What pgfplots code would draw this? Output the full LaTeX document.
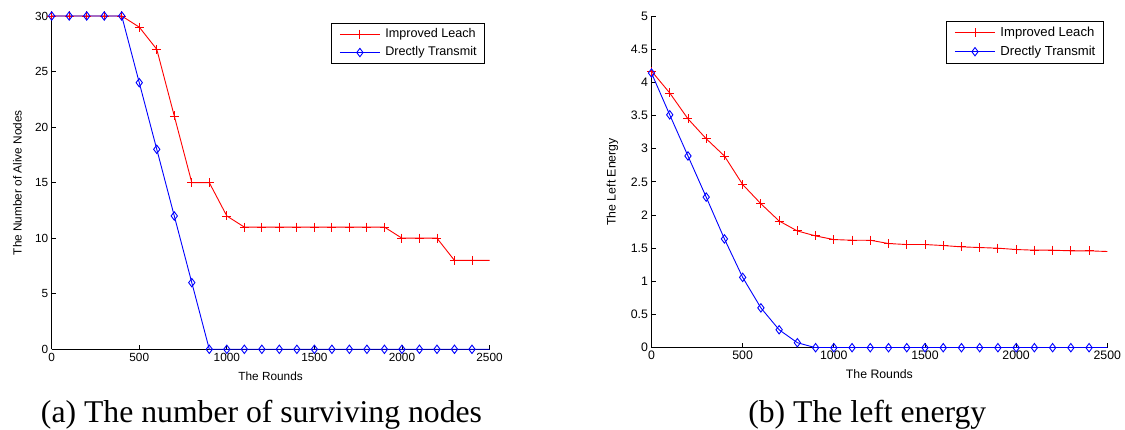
\documentclass[border=0pt]{standalone}
\usepackage{fontspec}
\setmainfont{Liberation Sans}
\newfontfamily\tnr{Liberation Serif}
\usepackage{pgfplots}
\pgfplotsset{compat=1.18}
\definecolor{mred}{RGB}{255,0,0}
\definecolor{mblue}{RGB}{0,0,255}
\pgfplotsset{
  mstyle/.style={
    scale only axis,
    axis x line*=bottom, axis y line*=left,
    axis line style={black, line width=0.8bp},
    every tick/.style={black, line width=0.8bp},
    tick align=inside,
    major tick length=4.5bp,
    xmin=0, xmax=2500,
    xtick={0,500,1000,1500,2000,2500},
    scaled ticks=false,
    /pgf/number format/1000 sep={},
    /pgf/number format/assume math mode=true,
    xlabel={The Rounds},
    legend cell align=left,
    legend image code/.code={\draw[##1, mark indices={2}] plot coordinates {(0bp,0bp) (20bp,0bp) (40bp,0bp)};},
  },
  redline/.style={color=mred, line width=0.9bp, mark=+, mark size=4.5bp, mark options={solid, line width=0.9bp},
    mark indices={1,2,3,4,5,6,7,8,9,10,11,12,13,14,15,16,17,18,19,20,21,22,23,24,25}},
  blueline/.style={color=mblue, line width=0.9bp, mark=diamond, mark size=4.2bp, mark options={solid, line width=0.9bp},
    mark indices={1,2,3,4,5,6,7,8,9,10,11,12,13,14,15,16,17,18,19,20,21,22,23,24,25}},
}
\begin{document}
\begin{tikzpicture}
\useasboundingbox (0,0) rectangle (1125bp,430bp);
% ---------- (a)
\begin{axis}[mstyle,
  at={(51.7bp,80.7bp)}, anchor=south west,
  width=437.8bp, height=333.3bp,
  ymin=0, ymax=30, ytick={0,5,10,15,20,25,30},
  tick label style={font=\fontsize{11.8bp}{13bp}\selectfont},
  label style={font=\fontsize{11.8bp}{13bp}\selectfont},
  ylabel={The Number of Alive Nodes},
  xlabel style={at={(axis description cs:0.5,0)}, anchor=base, yshift=-31bp},
  ylabel style={at={(axis description cs:-0.0685,0.5)}, anchor=base},
  legend style={at={(axis description cs:0.9897,0.9799)}, anchor=north east,
    draw=black, line width=0.8bp, inner xsep=8bp, inner ysep=4.9bp,
    row sep=5.8bp, column sep=5bp,
    font=\fontsize{12.6bp}{14bp}\selectfont,
    nodes={inner sep=0pt, text height=9.5bp, text depth=3bp}},
]
\addplot[redline] coordinates {
(0,30) (100,30) (200,30) (300,30) (400,30) (500,29) (600,27) (700,21) (800,15) (900,15)
(1000,12) (1100,11) (1200,11) (1300,11) (1400,11) (1500,11) (1600,11) (1700,11) (1800,11) (1900,11)
(2000,10) (2100,10) (2200,10) (2300,8) (2400,8) (2500,8)};
\addlegendentry{Improved Leach}
\addplot[blueline] coordinates {
(0,30) (100,30) (200,30) (300,30) (400,30) (500,24) (600,18) (700,12) (800,6) (900,0)
(1000,0) (1100,0) (1200,0) (1300,0) (1400,0) (1500,0) (1600,0) (1700,0) (1800,0) (1900,0)
(2000,0) (2100,0) (2200,0) (2300,0) (2400,0) (2500,0)};
\addlegendentry{Drectly Transmit}
\end{axis}
% ---------- (b)
\begin{axis}[mstyle,
  at={(651.5bp,82.3bp)}, anchor=south west,
  width=455.8bp, height=331.7bp,
  ymin=0, ymax=5, ytick={0,0.5,1,1.5,2,2.5,3,3.5,4,4.5,5},
  tick label style={font=\fontsize{12.3bp}{13.5bp}\selectfont},
  label style={font=\fontsize{12.3bp}{13.5bp}\selectfont},
  ylabel={The Left Energy},
  xlabel style={at={(axis description cs:0.5,0)}, anchor=base, yshift=-31bp},
  ylabel style={at={(axis description cs:-0.0785,0.5)}, anchor=base},
  legend style={at={(axis description cs:0.9921,0.9858)}, anchor=north east,
    draw=black, line width=0.8bp, inner xsep=8bp, inner ysep=5.1bp,
    row sep=6bp, column sep=5bp,
    font=\fontsize{13.1bp}{14.5bp}\selectfont,
    nodes={inner sep=0pt, text height=9.9bp, text depth=3.1bp}},
]
\addplot[redline] coordinates {
(0,4.17) (100,3.84) (200,3.45) (300,3.15) (400,2.89) (500,2.46) (600,2.17) (700,1.91) (800,1.76) (900,1.685)
(1000,1.63) (1100,1.62) (1200,1.62) (1300,1.57) (1400,1.555) (1500,1.555) (1600,1.54) (1700,1.52) (1800,1.51) (1900,1.50)
(2000,1.48) (2100,1.47) (2200,1.47) (2300,1.46) (2400,1.46) (2500,1.45)};
\addlegendentry{Improved Leach}
\addplot[blueline] coordinates {
(0,4.14) (100,3.51) (200,2.89) (300,2.27) (400,1.64) (500,1.06) (600,0.60) (700,0.27) (800,0.075) (900,0)
(1000,0) (1100,0) (1200,0) (1300,0) (1400,0) (1500,0) (1600,0) (1700,0) (1800,0) (1900,0)
(2000,0) (2100,0) (2200,0) (2300,0) (2400,0) (2500,0)};
\addlegendentry{Drectly Transmit}
\end{axis}
% ---------- captions
\node[anchor=base, font=\tnr\fontsize{31.7bp}{36bp}\selectfont, inner sep=0pt] at (261.5bp,7.5bp) {(a) The number of surviving nodes};
\node[anchor=base, font=\tnr\fontsize{31.7bp}{36bp}\selectfont, inner sep=0pt] at (867.3bp,7.5bp) {(b) The left energy};
\end{tikzpicture}
\end{document}
